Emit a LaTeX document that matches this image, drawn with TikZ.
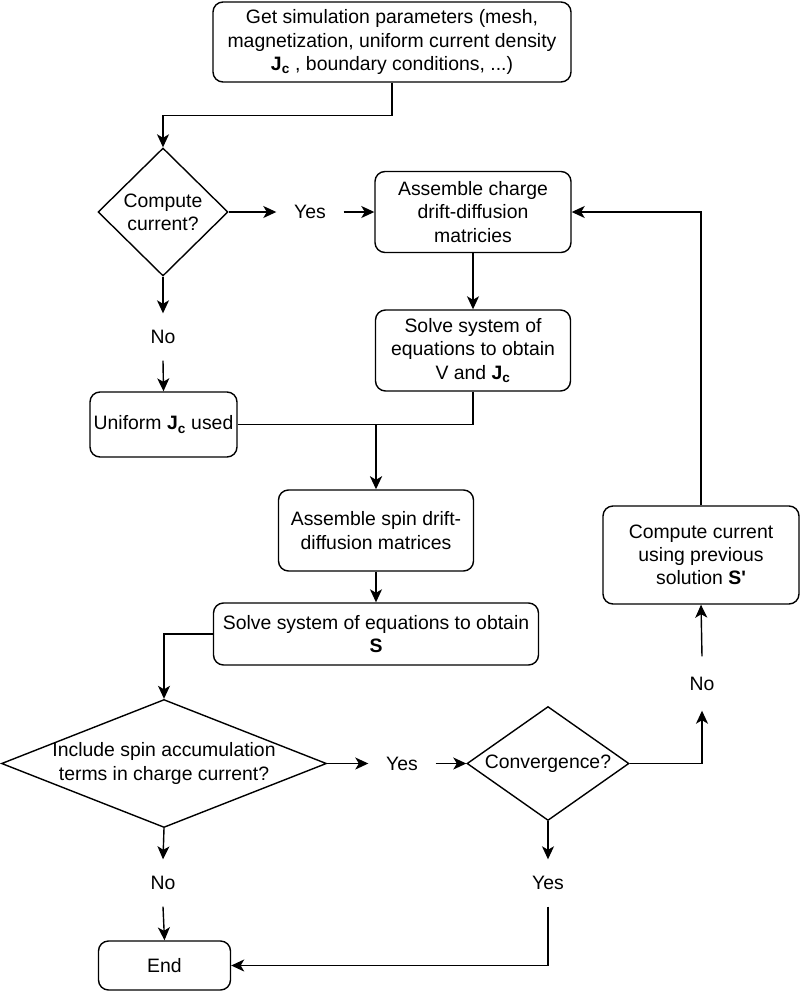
\documentclass[tikz,border=0pt]{standalone}
\usepackage{fontspec}
\setmainfont{Liberation Sans}
\usetikzlibrary{shapes.geometric,arrows.meta}
\tikzset{
  block/.style={draw, rounded corners=10pt, align=center, inner sep=0pt},
  decision/.style={draw, diamond, align=center, inner sep=0pt},
  answer/.style={minimum width=66pt, minimum height=46pt, inner sep=0pt},
  arr/.style={-{Stealth[length=13pt,width=12pt,inset=3.5pt]}},
}
\newcommand{\Jc}{\textbf{J\textsubscript{c}}}
\begin{document}
\begin{tikzpicture}[x=1pt, y=-1pt, line width=1.4pt, font=\fontsize{19.4}{23.3}\selectfont]
	\useasboundingbox (0,0) rectangle (800,991);
	% boxes
	\node[block, minimum width=358pt, minimum height=80pt] (params) at (392,42) {Get simulation parameters (mesh,\\magnetization, uniform current density\\\Jc\ , boundary conditions, ...)};
	\node[decision, aspect=1, minimum width=130pt, minimum height=128pt] (cur) at (163,212) {Compute\\current?};
	\node[answer] (yes1) at (310,212) {Yes};
	\node[block, minimum width=196pt, minimum height=81pt] (asmch) at (473,212) {Assemble charge\\drift-diffusion\\matricies};
	\node[block, minimum width=195pt, minimum height=81pt] (solvv) at (473,350.5) {Solve system of\\equations to obtain\\V and \Jc};
	\node[answer] (no1) at (163,337) {No};
	\node[block, minimum width=147pt, minimum height=65pt] (unif) at (163.5,424.5) {Uniform \Jc\ used};
	\node[block, minimum width=195pt, minimum height=81pt] (asmsp) at (376,530.5) {Assemble spin drift-\\diffusion matrices};
	\node[block, minimum width=325pt, minimum height=62pt] (solvs) at (376,634) {Solve system of equations to obtain\\\textbf{S}};
	\node[decision, aspect=2.54, inner xsep=-5pt, minimum width=325pt, minimum height=128pt] (incl) at (164,763.5) {Include spin accumulation\\terms in charge current?};
	\node[answer] (yes2) at (402,763.5) {Yes};
	\node[decision, aspect=1.42, minimum width=162pt, minimum height=114pt] (conv) at (548,763.5) {Convergence?};
	\node[answer] (no2) at (163,883) {No};
	\node[answer] (yes3) at (548,883) {Yes};
	\node[answer, minimum height=53pt] (no3) at (702,683.5) {No};
	\node[block, minimum width=196pt, minimum height=98pt] (prev) at (701,555) {Compute current\\using previous\\solution \textbf{S\textquotesingle}};
	\node[block, minimum width=132pt, minimum height=49pt] (end) at (164.5,965.5) {End};
	% connectors
	\draw[arr] (params.south) -- ++(0,33) -| (cur.north);
	\draw[arr] (cur.east) -- (yes1.west);
	\draw[arr] (yes1.east) -- (asmch.west);
	\draw[arr] (asmch.south) -- (solvv.north);
	\draw[arr] (cur.south) -- (no1.north);
	\draw[arr] (no1.south) -- (unif.north);
	\coordinate (junc) at (asmsp.north |- unif.east);
	\draw (unif.east) -- (junc);
	\draw (solvv.south) |- (junc);
	\draw[arr, line width=2.4pt] (junc) -- (asmsp.north);
	\draw[arr] (asmsp.south) -- (solvs.north);
	\draw[arr] (solvs.west) -| (incl.north);
	\draw[arr] (incl.east) -- (yes2.west);
	\draw[arr] (yes2.east) -- (conv.west);
	\draw[arr] (incl.south) -- (no2.north);
	\draw[arr] (no2.south) -- (end.north);
	\draw[arr] (conv.south) -- (yes3.north);
	\draw[arr] (yes3.south) |- (end.east);
	\draw[arr] (conv.east) -| (no3.south);
	\draw[arr] (no3.north) -- (prev.south);
	\draw[arr] (prev.north) |- (asmch.east);
\end{tikzpicture}
\end{document}
